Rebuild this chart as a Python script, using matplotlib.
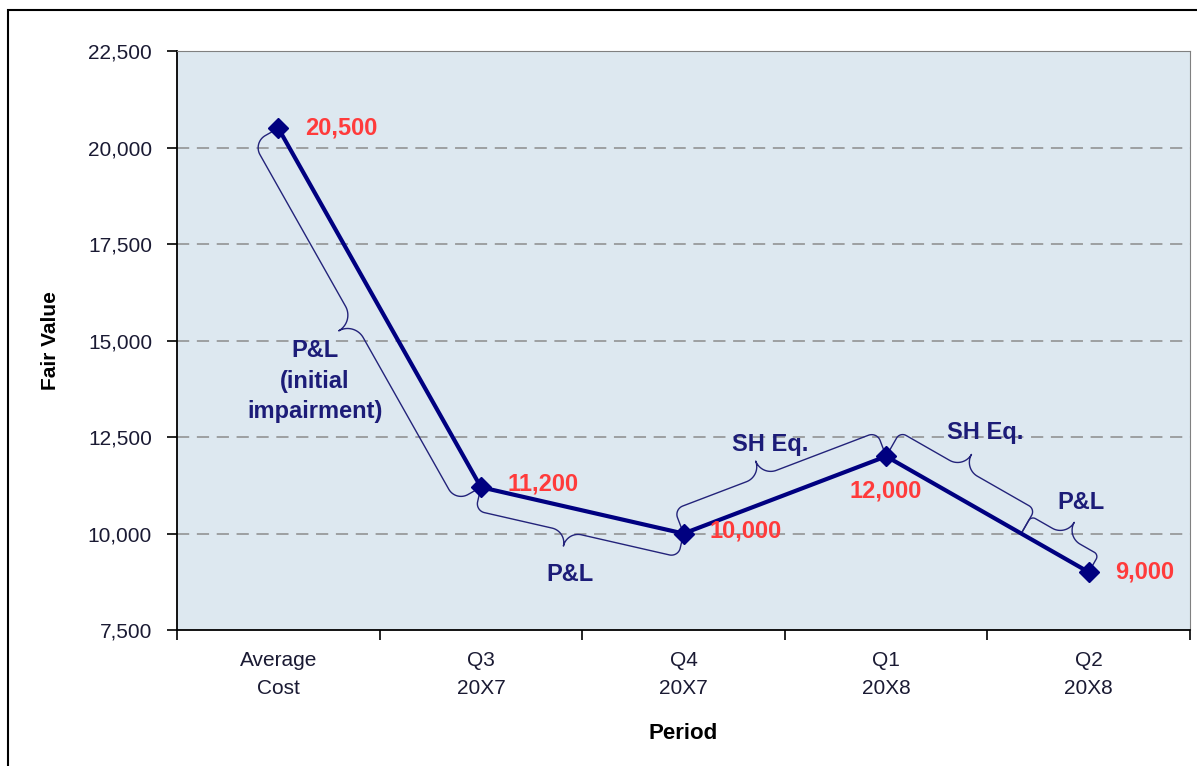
import matplotlib.pyplot as plt
import numpy as np
from matplotlib.patches import Rectangle

# data
categories = ["Average\nCost", "Q3\n20X7", "Q4\n20X7", "Q1\n20X8", "Q2\n20X8"]
values = [20500, 11200, 10000, 12000, 9000]
cost_level = 10000   # where the last fall switches from SH Eq. to P&L
notes = ["P&L\n(initial\nimpairment)", "P&L", "SH Eq.", "SH Eq.", "P&L"]

plt.rcParams['font.family'] = ['Liberation Sans', 'DejaVu Sans']
navy = "#000080"
txt_navy = "#1c1c78"
red = "#ff3b3b"

fig = plt.figure(figsize=(11.97, 7.66), dpi=100)
ax = fig.add_axes([0.1479, 0.1775, 0.8463, 0.7559])
ax.set_facecolor("#dde8f0")

x = np.arange(len(values))
ax.set_xlim(-0.5, len(values) - 0.5)
ax.set_ylim(7500, 22500)

# grid
for yv in range(10000, 22500, 2500):
    ax.axhline(yv, color="#8c8c8c", lw=1.1, ls=(0, (8, 5)), zorder=1)

ax.plot(x, values, color=navy, lw=3, marker="D", ms=10, zorder=4)

# value labels
offs = [(19, 0, "left"), (19, 2, "left"), (19, 2, "left"), (0, -25, "center"), (19, 0, "left")]
for xi, v, (dx, dy, ha) in zip(x, values, offs):
    ax.annotate(f"{v:,}", (xi, v), xytext=(dx, dy), textcoords="offset points",
                ha=ha, va="center", color=red, fontsize=17, fontweight="bold", zorder=6)

# axes styling
ax.set_yticks(range(7500, 22501, 2500))
ax.set_yticklabels([f"{t:,}" for t in range(7500, 22501, 2500)])
ax.set_xticks(x)
ax.set_xticklabels(categories)
ax.set_xticks(np.arange(-0.5, len(values)), minor=True)
ax.tick_params(axis="x", which="major", length=0, pad=15, labelsize=15)
ax.tick_params(axis="x", which="minor", length=7, width=1.2, direction="out")
ax.tick_params(axis="y", length=7, width=1.2, pad=11, labelsize=15, labelcolor="#1a1a33")
ax.tick_params(axis="x", labelcolor="#1a1a33")
for t in ax.get_xticklabels():
    t.set_linespacing(1.6)
for s in ["top", "right"]:
    ax.spines[s].set_color("#808080")
for s in ["left", "bottom"]:
    ax.spines[s].set_color("black")
    ax.spines[s].set_linewidth(1.3)

ax.set_xlabel("Period", fontsize=16, fontweight="bold", labelpad=18)
ax.set_ylabel("Fair Value", fontsize=15, fontweight="bold", labelpad=20)


def brace(p0, p1, side, d=24, h=16, frac=0.5, rc=6):
    # curly brace drawn in pixel space along p0->p1, tip pointing away from the line
    a = ax.transData.transform(p0)
    b = ax.transData.transform(p1)
    v = b - a
    L = np.hypot(*v)
    u = v / L
    n = side * np.array([-u[1], u[0]])
    m = frac * L
    t = np.linspace(0, np.pi / 2, 20)
    s = np.concatenate([[0], rc - rc*np.cos(t), m - h + h*np.sin(t),
                        m + h - h*np.sin(t[::-1]), L - rc + rc*np.sin(t), [L]])
    q = np.concatenate([[0], d - rc + rc*np.sin(t), d + h - h*np.cos(t),
                        d + h - h*np.cos(t[::-1]), d - rc + rc*np.cos(t), [0]])
    pts = a + s[:, None]*u + q[:, None]*n
    pts = ax.transData.inverted().transform(pts)
    ax.plot(pts[:, 0], pts[:, 1], color="#23237a", lw=1.0, zorder=3)


fr = (values[3] - cost_level) / (values[3] - values[4])
split = (3 + fr, cost_level)
brace((0, values[0]), (1, values[1]), -1, d=29, h=18, rc=14)
brace((1, values[1]), (2, values[2]), -1, d=24, h=15, frac=0.45, rc=9)
brace((2, values[2]), (3, values[3]), 1, d=26, h=16, frac=0.43, rc=9)
brace((3, values[3]), split, 1, d=28, h=16, frac=0.47, rc=7)
brace(split, (4, values[4]), 1, d=20, h=16, frac=0.52, rc=5)

note_pos = [(0.18, 13950), (1.44, 8930), (2.43, 12300), (3.49, 12630), (3.96, 10800)]
for (nx, ny), t in zip(note_pos, notes):
    ax.text(nx, ny, t, ha="center", va="center", color=txt_navy, fontsize=17,
            fontweight="bold", linespacing=1.4, zorder=5)

# outer frame
fig.patches.append(Rectangle((8/1197, -0.05), 1.2, 1.05 - 10/766, transform=fig.transFigure,
                             fill=False, edgecolor="black", lw=1.5))

fig.savefig("out.png", dpi=100)
